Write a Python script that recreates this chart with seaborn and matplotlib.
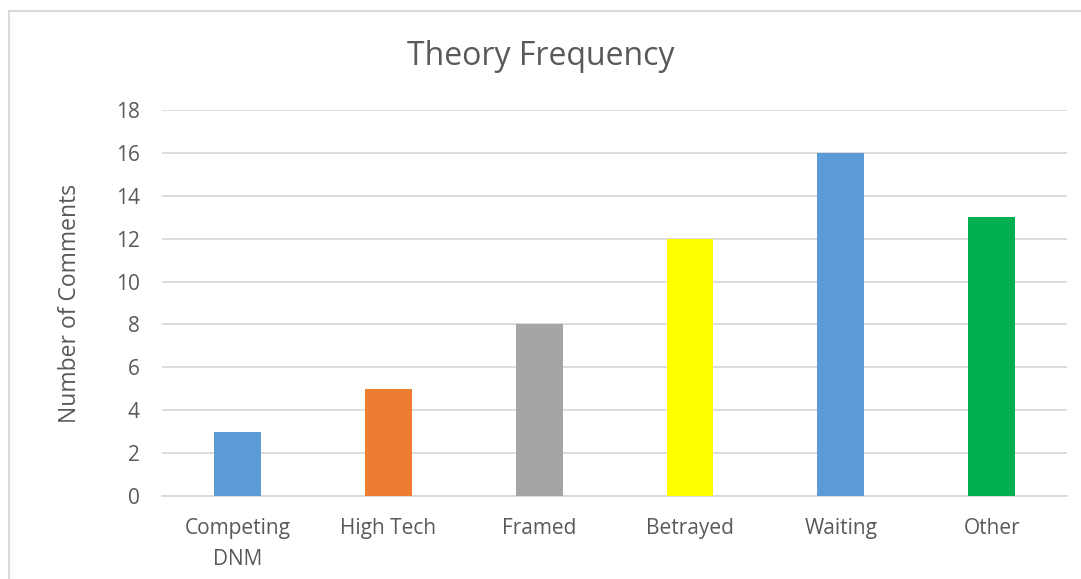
import matplotlib
matplotlib.use("Agg")
import matplotlib.pyplot as plt
import seaborn as sns
from matplotlib.patches import Rectangle

# data
theories = ["Competing\nDNM", "High Tech", "Framed", "Betrayed", "Waiting", "Other"]
comments = [3, 5, 8, 12, 16, 13]
bar_colors = ["#5B9BD5", "#ED7D31", "#A5A5A5", "#FFFF00", "#5B9BD5", "#00B050"]

sns.set_style("white")
plt.rcParams["font.family"] = ["Open Sans", "DejaVu Sans"]
text_color = "#595959"

fig = plt.figure(figsize=(10.81, 5.79), dpi=100)
ax = fig.add_axes([0.1499, 0.1434, 0.8372, 0.6667])

sns.barplot(x=theories, y=comments, hue=theories, palette=bar_colors,
            width=0.31, legend=False, saturation=1, ax=ax, zorder=3,
            edgecolor="none")

ax.set_ylim(0, 18)
ax.set_yticks(range(0, 19, 2))
ax.set_xlim(-0.5, len(theories) - 0.5)
ax.yaxis.grid(True, color="#D9D9D9", linewidth=1.3, zorder=0)
ax.set_axisbelow(True)
for side in ["top", "right", "left"]:
    ax.spines[side].set_visible(False)
ax.spines["bottom"].set_color("#D9D9D9")
ax.spines["bottom"].set_linewidth(1.3)
ax.tick_params(axis="both", length=0, colors=text_color, labelsize=15)
ax.tick_params(axis="x", pad=16)
ax.tick_params(axis="y", pad=16)
for lbl in ax.get_xticklabels():
    lbl.set_linespacing(1.6)

ax.set_ylabel("Number of Comments", fontsize=16.5, color=text_color, labelpad=24)
ax.set_xlabel("")
fig.text(0.5, 0.903, "Theory Frequency", ha="center", va="center",
         fontsize=23, color=text_color)

# chart border like the spreadsheet frame
fig.patches.append(Rectangle((9 / 1081, -0.05), 1.2, 1.05 - 11 / 579,
                             transform=fig.transFigure, fill=False,
                             edgecolor="#D9D9D9", linewidth=1.5))

fig.savefig("out.png", dpi=100)
